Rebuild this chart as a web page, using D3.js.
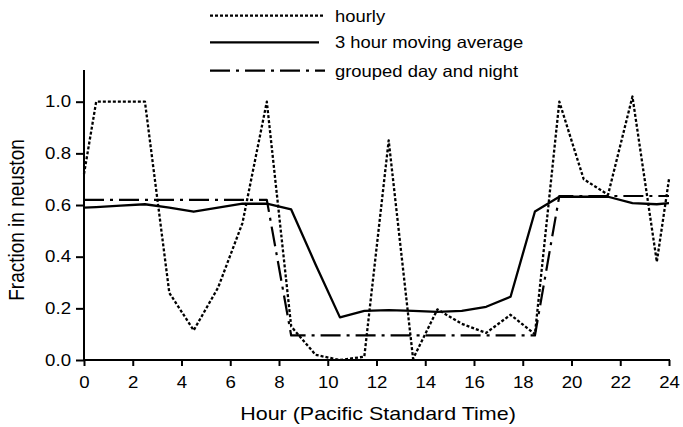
<!DOCTYPE html>
<html>
<head>
<meta charset="utf-8">
<script src="https://cdn.jsdelivr.net/npm/d3@7"></script>
<style>
  html, body { margin: 0; padding: 0; background: #fff; }
  svg text { font-family: "Liberation Sans", Arial, Helvetica, sans-serif; fill: #000; }
</style>
</head>
<body>
<svg id="chart" width="683" height="427"></svg>
<script>
// ---- data ----
const hours = [0, 0.5, 1.5, 2.5, 3.5, 4.5, 5.5, 6.5, 7.5, 8.5, 9.5, 10.5, 11.5, 12.5,
               13.5, 14.5, 15.5, 16.5, 17.5, 18.5, 19.5, 20.5, 21.5, 22.5, 23.5, 24];
const hourly = [0.72, 1.0, 1.0, 1.0, 0.26, 0.115, 0.28, 0.53, 1.0, 0.13, 0.02, 0.0, 0.013, 0.85,
                0.005, 0.196, 0.14, 0.105, 0.175, 0.1, 1.0, 0.70, 0.64, 1.02, 0.38, 0.70];
const movingAvg = [0.59, 0.592, 0.598, 0.603, 0.59, 0.574, 0.59, 0.605, 0.605, 0.583, 0.37, 0.165, 0.19, 0.193,
                   0.19, 0.186, 0.19, 0.206, 0.245, 0.575, 0.632, 0.632, 0.632, 0.607, 0.603, 0.607];
const groupedHours = [0, 7.5, 8.5, 18.5, 19.5, 24];
const grouped = [0.62, 0.62, 0.095, 0.095, 0.635, 0.635];
const xTicks = [0, 2, 4, 6, 8, 10, 12, 14, 16, 18, 20, 22, 24];
const yTicks = [0.0, 0.2, 0.4, 0.6, 0.8, 1.0];
const legendLabels = ["hourly", "3 hour moving average", "grouped day and night"];
const xTitle = "Hour (Pacific Standard Time)";
const yTitle = "Fraction in neuston";

// ---- drawing ----
const svg = d3.select("#chart");
const STRETCH = 1.13;
const x = d3.scaleLinear().domain([0, 24]).range([84, 669]);
const y = d3.scaleLinear().domain([0, 1]).range([360, 101.7]);

const styles = [
  { dash: "3,2", width: 2.3 },
  { dash: null, width: 2.3 },
  { dash: "20,6,3,6", width: 2.2 }
];

// axes
const xAxis = d3.axisBottom(x).tickValues(xTicks).tickFormat(d3.format("d"))
  .tickSize(6).tickSizeOuter(0).tickPadding(10);
const gx = svg.append("g").attr("transform", `translate(0,${y(0)})`).call(xAxis);
gx.select(".domain").remove();
gx.append("line").attr("x1", x(0) - 1).attr("x2", x(24) + 1).attr("y1", 0).attr("y2", 0)
  .attr("stroke", "#000").attr("stroke-width", 2);
gx.selectAll(".tick line").attr("stroke", "#000").attr("stroke-width", 2);
gx.selectAll(".tick text").style("font-size", "16.5px")
  .attr("transform", `scale(${STRETCH},1)`);

const yAxis = d3.axisLeft(y).tickValues(yTicks).tickFormat(d3.format(".1f"))
  .tickSize(8).tickSizeOuter(0).tickPadding(3.5);
const gy = svg.append("g").attr("transform", `translate(${x(0)},0)`).call(yAxis);
gy.select(".domain").remove();
gy.append("line").attr("x1", 0).attr("x2", 0).attr("y1", y(0) + 1).attr("y2", 70)
  .attr("stroke", "#000").attr("stroke-width", 2);
gy.selectAll(".tick line").attr("stroke", "#000").attr("stroke-width", 2);
gy.selectAll(".tick text").style("font-size", "16.5px")
  .attr("transform", `scale(${STRETCH},1)`);

// titles
svg.append("text")
  .attr("transform", `translate(378,420) scale(${STRETCH},1)`)
  .attr("text-anchor", "middle").style("font-size", "19px").text(xTitle);
svg.append("text")
  .attr("transform", `translate(24,220) scale(${STRETCH},1) rotate(-90)`)
  .attr("text-anchor", "middle").style("font-size", "19px").text(yTitle);

// lines
const line = d3.line().x(d => x(d[0])).y(d => y(d[1]));
const seriesData = [
  d3.zip(hours, hourly),
  d3.zip(hours, movingAvg),
  d3.zip(groupedHours, grouped)
];
[2, 0, 1].forEach(i => {
  svg.append("path").datum(seriesData[i])
    .attr("d", line).attr("fill", "none").attr("stroke", "#000")
    .attr("stroke-width", styles[i].width)
    .attr("stroke-linejoin", "round")
    .attr("stroke-dasharray", styles[i].dash);
});

// legend
const legendY = [15.7, 42.3, 70.7];
const lg = svg.append("g");
legendLabels.forEach((lab, i) => {
  lg.append("line").attr("x1", 210).attr("x2", i === 1 ? 319 : 325)
    .attr("y1", legendY[i]).attr("y2", legendY[i])
    .attr("stroke", "#000").attr("stroke-width", styles[i].width)
    .attr("stroke-dasharray", styles[i].dash);
  lg.append("text")
    .attr("transform", `translate(335,${legendY[i] + 6}) scale(${STRETCH},1)`)
    .style("font-size", "16.3px").text(lab);
});
</script>
</body>
</html>
